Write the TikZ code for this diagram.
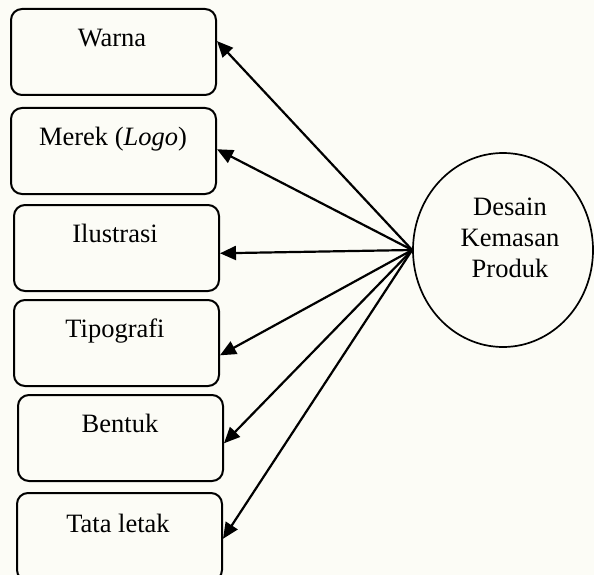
\documentclass[tikz,border=0pt]{standalone}
\usepackage{fontspec}
\setmainfont{Liberation Serif}
\usetikzlibrary{arrows.meta,shapes.geometric,calc}
\definecolor{paper}{RGB}{252,252,246}
\tikzset{
  itembox/.style={draw=black, line width=2pt, rounded corners=11pt, fill=none,
    minimum width=205pt, minimum height=86pt, inner sep=0pt, anchor=north west},
  itemtext/.style={font=\fontsize{26.5}{31}\selectfont, anchor=base, inner sep=0pt},
  link/.style={line width=2.2pt, -{Triangle[length=16pt,width=14pt]}},
}
\begin{document}
\begin{tikzpicture}[x=1pt,y=-1pt]
  % page and background
  \fill[paper] (0,0) rectangle (594,575);
  \useasboundingbox (0,0) rectangle (594,575);

  % the six element boxes
  \node[itembox] (b1) at (10,8) {};
  \node[itembox] (b2) at (10,107) {};
  \node[itembox] (b3) at (13,204) {};
  \node[itembox] (b4) at (13,299) {};
  \node[itembox] (b5) at (17,394) {};
  \node[itembox, minimum height=88pt] (b6) at (16,492) {};

  % their labels
  \node[itemtext] (t1) at (112,47) {Warna};
  \node[itemtext] (t2) at (113,146) {Merek (\textit{Logo})};
  \node[itemtext] (t3) at (115,242) {Ilustrasi};
  \node[itemtext] (t4) at (115,337) {Tipografi};
  \node[itemtext] (t5) at (120,432) {Bentuk};
  \node[itemtext] (t6) at (118,532) {Tata letak};

  % the central ellipse
  \node[ellipse, draw=black, line width=1.7pt, minimum width=180pt, minimum height=194pt,
        inner sep=0pt] (c) at (503,250) {};
  \node[align=center, font=\fontsize{26.5}{31}\selectfont, inner sep=0pt] (ct) at (510,238)
       {Desain\\Kemasan\\Produk};

  % connectors from the ellipse to every box
  \coordinate (hub) at (c.west);
  \draw[link] (hub) -- ($(b1.north east)!0.376!(b1.south east)$);
  \draw[link] (hub) -- ($(b2.north east)!0.48!(b2.south east)$);
  \draw[link] (hub) -- ($(b3.north east)!0.56!(b3.south east)$);
  \draw[link] (hub) -- ($(b4.north east)!0.64!(b4.south east)$);
  \draw[link] (hub) -- ($(b5.north east)!0.56!(b5.south east)$);
  \draw[link] (hub) -- ($(b6.north east)!0.52!(b6.south east)$);
\end{tikzpicture}
\end{document}
